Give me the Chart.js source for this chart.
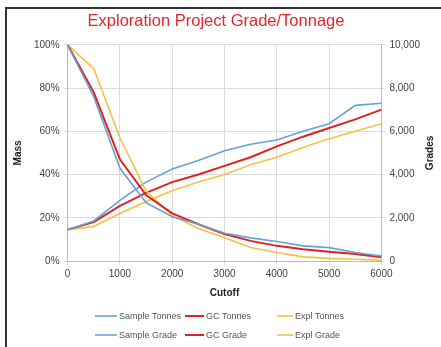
<!DOCTYPE html>
<html>
<head>
<meta charset="utf-8">
<script src="https://cdn.jsdelivr.net/npm/chart.js@4.4.0/dist/chart.umd.min.js"></script>
<style>
    html, body { margin: 0; padding: 0; background: #fff; }
    #wrap { position: relative; width: 441px; height: 347px; }
    #frame { position: absolute; left: 5px; top: 7px; right: -2px; bottom: -2px;
             border-left: 2px solid #333; border-top: 2px solid #333; }
    canvas { position: absolute; left: 0; top: 0; }
</style>
</head>
<body>
<div id="wrap">
    <div id="frame"></div>
    <canvas id="gradeChart" width="441" height="347"></canvas>
</div>
<script>
// Data
const cutoffs = [0, 500, 1000, 1500, 2000, 2500, 3000, 3500, 4000, 4500, 5000, 5500, 6000];

// tonnes (% of mass, left axis)
const sampleTonnes = [100, 76, 43, 27, 20.5, 17, 12.8, 10.7, 9, 7, 6.2, 3.9, 2.3];
const gcTonnes     = [100, 78, 47, 30.5, 22, 17, 12.5, 9.3, 7, 5.4, 4.3, 3.2, 1.7];
const explTonnes   = [100, 89, 57, 32.5, 21, 15, 10.7, 6.2, 3.9, 1.9, 1.2, 0.8, 0.3];

// grades (right axis)
const sampleGrade = [1450, 1850, 2800, 3650, 4250, 4650, 5100, 5400, 5600, 6000, 6350, 7200, 7300];
const gcGrade     = [1450, 1800, 2550, 3150, 3650, 4000, 4400, 4800, 5300, 5750, 6150, 6550, 7000];
const explGrade   = [1450, 1600, 2200, 2750, 3250, 3650, 4000, 4450, 4800, 5250, 5650, 6000, 6350];

const blue = '#64a2d8';
const red = '#e2211c';
const yellow = '#f4c146';
const gridColor = '#dcdcdc';
const tickColor = '#444';
const fontFamily = "'Liberation Sans', Arial, sans-serif";

const pts = arr => arr.map((v, i) => ({ x: cutoffs[i], y: v }));

function line(label, data, color, axis, width) {
    return {
        label: label,
        data: pts(data),
        borderColor: color,
        backgroundColor: color,
        borderWidth: width,
        pointRadius: 0,
        tension: 0,
        yAxisID: axis
    };
}

// right axis title reads bottom-to-top like the left one,
// legend laid out in three columns like the original
const extras = {
    id: 'extras',
    afterDraw(chart) {
        const ctx = chart.ctx;
        const area = chart.chartArea;
        ctx.save();
        ctx.translate(430, (area.top + area.bottom) / 2);
        ctx.rotate(-Math.PI / 2);
        ctx.fillStyle = '#222';
        ctx.font = "bold 10px " + fontFamily;
        ctx.textAlign = 'center';
        ctx.textBaseline = 'middle';
        ctx.fillText('Grades', 0, 0);
        ctx.restore();

        // legend: columns x (line start, line end), rows y
        const cols = [[95, 117], [185, 204], [277, 293]];
        const rows = [316, 335];
        ctx.save();
        ctx.font = "9px " + fontFamily;
        ctx.textBaseline = 'middle';
        ctx.textAlign = 'left';
        chart.data.datasets.forEach((ds, i) => {
            const c = cols[i % 3];
            const y = rows[Math.floor(i / 3)];
            ctx.strokeStyle = ds.borderColor;
            ctx.lineWidth = ds.borderWidth;
            ctx.beginPath();
            ctx.moveTo(c[0], y);
            ctx.lineTo(c[1], y);
            ctx.stroke();
            ctx.fillStyle = '#555';
            ctx.fillText(ds.label, c[1] + 2, y + 0.5);
        });
        ctx.restore();
    }
};

Chart.defaults.font.family = fontFamily;
Chart.defaults.color = tickColor;

new Chart(document.getElementById('gradeChart'), {
    type: 'line',
    data: {
        datasets: [
            line('Sample Tonnes', sampleTonnes, blue, 'y', 1.6),
            line('GC Tonnes', gcTonnes, red, 'y', 2),
            line('Expl Tonnes', explTonnes, yellow, 'y', 1.6),
            line('Sample Grade', sampleGrade, blue, 'y1', 1.6),
            line('GC Grade', gcGrade, red, 'y1', 2),
            line('Expl Grade', explGrade, yellow, 'y1', 1.6)
        ]
    },
    options: {
        responsive: false,
        animation: false,
        layout: { padding: { left: 8, right: 17, top: 8, bottom: 44 } },
        plugins: {
            title: {
                display: true,
                text: 'Exploration Project Grade/Tonnage',
                color: '#e2262c',
                font: { size: 16.5, weight: 'normal' },
                padding: { top: 4, bottom: 13 }
            },
            legend: { display: false },
            tooltip: { enabled: false }
        },
        scales: {
            x: {
                type: 'linear',
                min: 0,
                max: 6000,
                ticks: { stepSize: 1000, font: { size: 10 }, padding: 3, callback: v => String(v) },
                grid: { color: gridColor, tickLength: 4 },
                border: { color: '#bbb' },
                title: { display: true, text: 'Cutoff', color: '#222', font: { size: 10, weight: 'bold' }, padding: { top: 4 } }
            },
            y: {
                position: 'left',
                min: 0,
                max: 100,
                ticks: { stepSize: 20, font: { size: 10 }, padding: 4, callback: v => v + '%' },
                grid: { color: gridColor, tickLength: 4 },
                border: { color: '#bbb' },
                title: { display: true, text: 'Mass', color: '#222', font: { size: 10, weight: 'bold' }, padding: { bottom: 6 } }
            },
            y1: {
                position: 'right',
                min: 0,
                max: 10000,
                ticks: { stepSize: 2000, font: { size: 10 }, padding: 4, callback: v => v.toLocaleString('en-US') },
                grid: { drawOnChartArea: false, tickLength: 4, color: gridColor },
                border: { color: '#bbb' }
            }
        }
    },
    plugins: [extras]
});
</script>
</body>
</html>
